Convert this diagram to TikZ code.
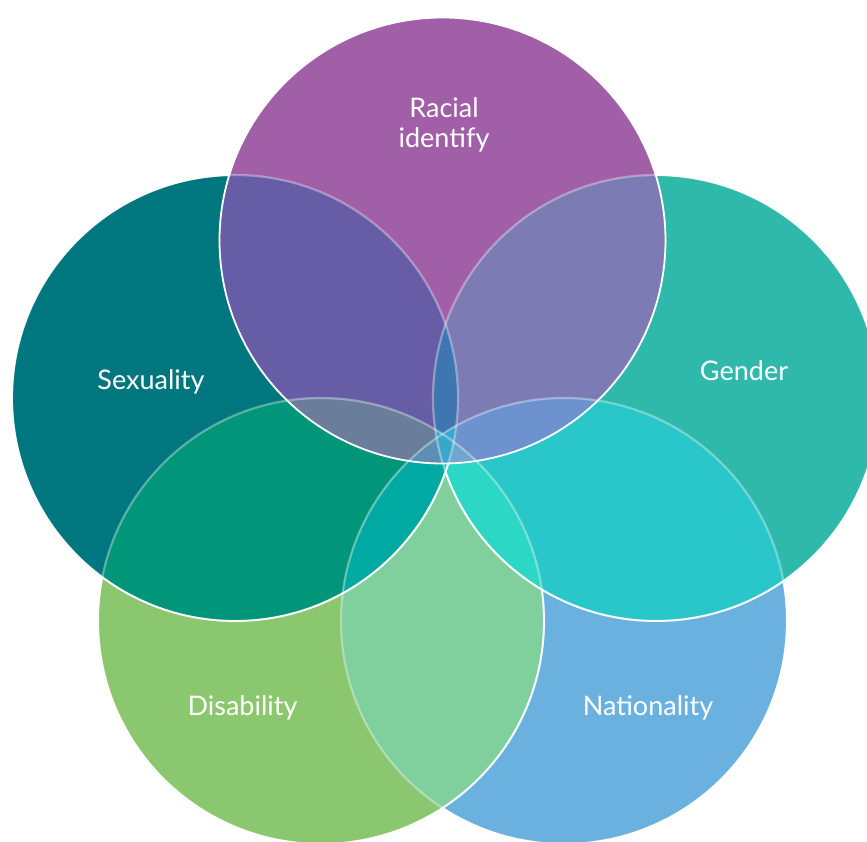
\documentclass[tikz,border=0pt]{standalone}
\usepackage{fontspec}
\setmainfont{Lato}
\definecolor{cRa}{HTML}{A05FA6}
\definecolor{cSe}{HTML}{00767F}
\definecolor{cGe}{HTML}{2EB9AB}
\definecolor{cDi}{HTML}{8BC76F}
\definecolor{cNa}{HTML}{6BB1E0}
\definecolor{cRS}{HTML}{665DA6}
\definecolor{cRG}{HTML}{7C7BB4}
\definecolor{cRSG}{HTML}{3F75B1}
\definecolor{cRSD}{HTML}{6A7E9C}
\definecolor{cRGN}{HTML}{6D92CE}
\definecolor{cSD}{HTML}{01967A}
\definecolor{cSDN}{HTML}{00A9A2}
\definecolor{cGN}{HTML}{29C6CA}
\definecolor{cGDN}{HTML}{2CD7C5}
\definecolor{cDN}{HTML}{80D09D}
\definecolor{cRDN}{HTML}{5B8FB5}
\definecolor{cRGDN}{HTML}{72A6D2}
\definecolor{cSGDN}{HTML}{20C0C8}
\definecolor{cAll}{HTML}{3AA6CC}
\tikzset{
  faintline/.style={draw=white, draw opacity=0.35, line width=2.2pt},
  solidline/.style={draw=white, line width=1.8pt},
  lbl/.style={text=white, font=\fontsize{27}{30}\selectfont, inner sep=0pt, align=center}
}
\begin{document}
\begin{tikzpicture}[x=1pt,y=-1pt]
\useasboundingbox (0,0) rectangle (867,841);
\coordinate (cR) at (442.5,240.5);
\coordinate (cS) at (235,398);
\coordinate (cG) at (656,398);
\coordinate (cD) at (321,621);
\coordinate (cN) at (564,621);
\def\rad{223pt}
\def\bb{(-20,-20) rectangle (900,880)}
\def\R{(cR) circle (\rad)}
\def\S{(cS) circle (\rad)}
\def\G{(cG) circle (\rad)}
\def\D{(cD) circle (\rad)}
\def\N{(cN) circle (\rad)}
% single circles
\fill[cNa] \N;
\fill[cDi] \D;
\fill[cGe] \G;
\fill[cSe] \S;
\fill[cRa] \R;
% pairs
\begin{scope}\clip \R; \clip \S; \fill[cRS] \bb; \end{scope}
\begin{scope}\clip \R; \clip \G; \fill[cRG] \bb; \end{scope}
\begin{scope}\clip \R; \clip \D; \fill[cRSD] \bb; \end{scope}
\begin{scope}\clip \R; \clip \N; \fill[cRGN] \bb; \end{scope}
\begin{scope}\clip \S; \clip \G; \fill[cRSG] \bb; \end{scope}
\begin{scope}\clip \S; \clip \D; \fill[cSD] \bb; \end{scope}
\begin{scope}\clip \S; \clip \N; \fill[cSDN] \bb; \end{scope}
\begin{scope}\clip \G; \clip \D; \fill[cGDN] \bb; \end{scope}
\begin{scope}\clip \G; \clip \N; \fill[cGN] \bb; \end{scope}
\begin{scope}\clip \D; \clip \N; \fill[cDN] \bb; \end{scope}
% triples
\begin{scope}\clip \R; \clip \S; \clip \G; \fill[cRSG] \bb; \end{scope}
\begin{scope}\clip \R; \clip \S; \clip \D; \fill[cRSD] \bb; \end{scope}
\begin{scope}\clip \R; \clip \S; \clip \N; \fill[cRSD] \bb; \end{scope}
\begin{scope}\clip \R; \clip \G; \clip \D; \fill[cRGN] \bb; \end{scope}
\begin{scope}\clip \R; \clip \G; \clip \N; \fill[cRGN] \bb; \end{scope}
\begin{scope}\clip \R; \clip \D; \clip \N; \fill[cRDN] \bb; \end{scope}
\begin{scope}\clip \S; \clip \G; \clip \D; \fill[cSGDN] \bb; \end{scope}
\begin{scope}\clip \S; \clip \G; \clip \N; \fill[cSGDN] \bb; \end{scope}
\begin{scope}\clip \S; \clip \D; \clip \N; \fill[cSDN] \bb; \end{scope}
\begin{scope}\clip \G; \clip \D; \clip \N; \fill[cGDN] \bb; \end{scope}
% quads
\begin{scope}\clip \R; \clip \S; \clip \G; \clip \D; \fill[cAll] \bb; \end{scope}
\begin{scope}\clip \R; \clip \S; \clip \G; \clip \N; \fill[cAll] \bb; \end{scope}
\begin{scope}\clip \R; \clip \S; \clip \D; \clip \N; \fill[cRDN] \bb; \end{scope}
\begin{scope}\clip \R; \clip \G; \clip \D; \clip \N; \fill[cRGDN] \bb; \end{scope}
\begin{scope}\clip \S; \clip \G; \clip \D; \clip \N; \fill[cSGDN] \bb; \end{scope}
% all five
\begin{scope}\clip \R; \clip \S; \clip \G; \clip \D; \clip \N; \fill[cAll] \bb; \end{scope}
% faint outlines (parts lying under upper circles)
\draw[faintline] \N;
\draw[faintline] \D;
\draw[faintline] \G;
\draw[faintline] \S;
% solid outlines (parts not covered by upper circles)
\begin{scope}[even odd rule]
  \clip \bb \R;
  \draw[solidline] \S;
  \begin{scope}[even odd rule]
    \clip \bb \S;
    \draw[solidline] \G;
    \begin{scope}[even odd rule]
      \clip \bb \G;
      \draw[solidline] \D;
      \begin{scope}[even odd rule]
        \clip \bb \D;
        \draw[solidline] \N;
      \end{scope}
    \end{scope}
  \end{scope}
\end{scope}
\draw[solidline] \R;
% labels
\node[lbl, anchor=base] (tR) at (444,147) {Racial\\identify};
\node[lbl, anchor=base] (tS) at (151,389) {Sexuality};
\node[lbl, anchor=base] (tG) at (744,380) {Gender};
\node[lbl, anchor=base] (tD) at (242.5,715) {Disability};
\node[lbl, anchor=base] (tN) at (648,715) {Nationality};
\end{tikzpicture}
\end{document}
